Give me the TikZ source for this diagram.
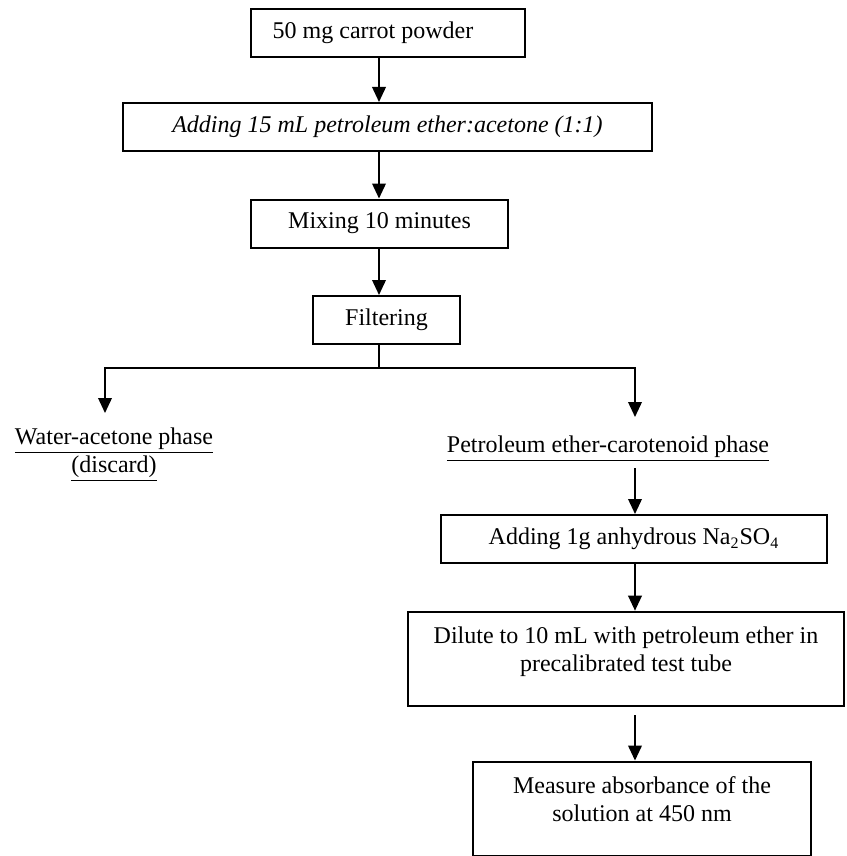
\documentclass[tikz,border=0pt]{standalone}
\usepackage{fontspec}
\setmainfont{Liberation Serif}
\usetikzlibrary{arrows.meta}
\tikzset{
  stepbox/.style={draw=black,line width=1pt,minimum height=24pt,inner sep=2pt},
  tallbox/.style={draw=black,line width=1pt,align=center,inner ysep=7.5pt},
  phase/.style={align=center},
  flow/.style={line width=0.9pt,-{Triangle[width=6.8pt,length=7.5pt]}},
  link/.style={line width=0.9pt}
}
\newcommand{\lowstrut}{\rule[-10pt]{0pt}{10pt}}
\begin{document}
\begin{tikzpicture}[x=0.5pt,y=-0.5pt,font=\fontsize{12}{14}\selectfont]
\useasboundingbox (0,0) rectangle (846,856);
\coordinate (spine) at (379,0);
\coordinate (spineb) at (635,0);
\coordinate (split) at (379,368);
\coordinate (wtip) at (105,413);
\coordinate (ptip) at (635,417);
\node[stepbox,minimum width=137pt] (powder) at (388,33) {50 mg carrot powder\hspace*{15pt}};
\node[stepbox,minimum width=264.5pt] (solvent) at (387.5,127) {\textit{Adding 15 mL petroleum ether:acetone (1:1)}};
\node[stepbox,minimum width=128.5pt] (mixing) at (379.5,223.5) {Mixing 10 minutes};
\node[stepbox,minimum width=73.5pt] (filter) at (386.5,320) {Filtering};
\node[phase] (water) at (114,455) {\underline{Water-acetone phase}\\\underline{(discard)}};
\node[phase,anchor=base] (ether) at (608,452) {\underline{Petroleum ether-carotenoid phase}};
\node[stepbox,minimum width=193pt] (drying) at (634,539) {Adding 1g anhydrous Na\textsubscript{2}SO\textsubscript{4}};
\node[tallbox,minimum width=218pt] (dilute) at (626,659) {Dilute to 10 mL with petroleum ether in\\precalibrated test tube\lowstrut};
\node[tallbox,minimum width=169pt] (measure) at (642,809) {Measure absorbance of the\\solution at 450 nm\lowstrut};
\draw[flow] (powder.south -| spine) -- (solvent.north -| spine);
\draw[flow] (solvent.south -| spine) -- (mixing.north -| spine);
\draw[flow] (mixing.south -| spine) -- (filter.north -| spine);
\draw[link] (filter.south -| spine) -- (split);
\draw[flow] (split) -| (wtip);
\draw[flow] (split) -| (ptip);
\draw[flow] (ether.south -| spineb) -- (drying.north -| spineb);
\draw[flow] (drying.south -| spineb) -- (dilute.north -| spineb);
\draw[flow,shorten <=4pt] (dilute.south -| spineb) -- (measure.north -| spineb);
\end{tikzpicture}
\end{document}
